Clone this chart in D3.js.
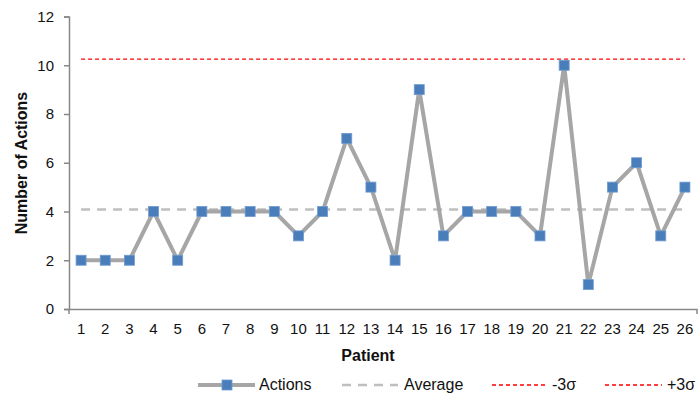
<!DOCTYPE html>
<html><head><meta charset="utf-8">
<script src="https://cdn.jsdelivr.net/npm/d3@7"></script>
<style>body{margin:0;background:#fff}svg{display:block}text{font-family:"Liberation Sans",Arial,sans-serif;fill:#111}</style>
</head><body>
<svg id="c" width="698" height="396"></svg>
<script>
const patients = d3.range(1, 27).map(String);
const actions = [2,2,2,4,2,4,4,4,4,3,4,7,5,2,9,3,4,4,4,3,10,1,5,6,3,5];
const average = 4.077;
const plus3s = 10.25;
const minus3s = -2.1;
const yTicks = [0,2,4,6,8,10,12];
const legendLabels = ["Actions","Average","-3σ","+3σ"];

const svg = d3.select("#c");
const x = d3.scaleBand().domain(patients).range([69, 697]);
const y = d3.scaleLinear().domain([0, 12]).range([309, 16.5]);
const cx = p => x(p) + x.bandwidth()/2;
const axisColor = "#888888";

// y axis
const ya = svg.append("g").attr("transform","translate(69,0)")
  .call(d3.axisLeft(y).tickValues(yTicks).tickSize(5).tickPadding(10));
ya.select(".domain").attr("stroke", axisColor).attr("stroke-width",1.5);
ya.selectAll(".tick line").attr("stroke", axisColor).attr("stroke-width",1.5);
ya.selectAll("text").attr("font-size",15).attr("fill","#111");

// x axis
const xa = svg.append("g").attr("transform","translate(0,309)")
  .call(d3.axisBottom(x).tickSize(0).tickPadding(14));
xa.select(".domain").attr("stroke", axisColor).attr("stroke-width",1.5);
xa.selectAll("text").attr("font-size",15).attr("fill","#111");
svg.append("line").attr("x1",69).attr("x2",69).attr("y1",309).attr("y2",314).attr("stroke",axisColor).attr("stroke-width",1.5);
svg.append("line").attr("x1",697).attr("x2",697).attr("y1",309).attr("y2",314).attr("stroke",axisColor).attr("stroke-width",1.5);

// reference lines
const x0 = cx(patients[0]), x1 = cx(patients[patients.length-1]);
svg.append("line").attr("x1",x0).attr("x2",x1).attr("y1",y(average)).attr("y2",y(average))
  .attr("stroke","#bfbfbf").attr("stroke-width",2.5).attr("stroke-dasharray","9,7");
svg.append("line").attr("x1",x0).attr("x2",x1).attr("y1",y(plus3s)).attr("y2",y(plus3s))
  .attr("stroke","#ff0000").attr("stroke-width",1.4).attr("stroke-dasharray","4,3");
if (minus3s >= 0) svg.append("line").attr("x1",x0).attr("x2",x1).attr("y1",y(minus3s)).attr("y2",y(minus3s))
  .attr("stroke","#ff0000").attr("stroke-width",1.4).attr("stroke-dasharray","4,3");

// series
const line = d3.line().x((d,i)=>cx(patients[i])).y(d=>y(d));
svg.append("path").datum(actions).attr("d",line).attr("fill","none")
  .attr("stroke","#a6a6a6").attr("stroke-width",4).attr("stroke-linejoin","round");
svg.selectAll("rect.m").data(actions).join("rect").attr("class","m")
  .attr("x",(d,i)=>cx(patients[i])-5).attr("y",d=>y(d)-5).attr("width",10).attr("height",10)
  .attr("fill","#4a7ebb").attr("stroke","#6e9bd0").attr("stroke-width",0.8);

// axis titles
svg.append("text").attr("x",368).attr("y",361).attr("text-anchor","middle")
  .attr("font-size",16).attr("font-weight","bold").text("Patient");
svg.append("text").attr("transform","translate(27,163) rotate(-90)").attr("text-anchor","middle")
  .attr("font-size",16).attr("font-weight","bold").text("Number of Actions");

// legend
const ly = 385;
const lg = svg.append("g");
lg.append("line").attr("x1",198).attr("x2",255).attr("y1",ly).attr("y2",ly).attr("stroke","#a6a6a6").attr("stroke-width",4);
lg.append("rect").attr("x",222).attr("y",ly-5).attr("width",10).attr("height",10).attr("fill","#4a7ebb").attr("stroke","#6e9bd0").attr("stroke-width",0.8);
lg.append("line").attr("x1",342).attr("x2",398).attr("y1",ly).attr("y2",ly).attr("stroke","#bfbfbf").attr("stroke-width",2.5).attr("stroke-dasharray","9,7");
lg.append("line").attr("x1",492).attr("x2",548).attr("y1",ly).attr("y2",ly).attr("stroke","#ff0000").attr("stroke-width",1.4).attr("stroke-dasharray","4,3");
lg.append("line").attr("x1",605).attr("x2",662).attr("y1",ly).attr("y2",ly).attr("stroke","#ff0000").attr("stroke-width",1.4).attr("stroke-dasharray","4,3");
const lx = [259, 404, 552, 667];
legendLabels.forEach((t,i)=>lg.append("text").attr("x",lx[i]).attr("y",ly+5).attr("font-size",16).text(t));
</script>
</body></html>
